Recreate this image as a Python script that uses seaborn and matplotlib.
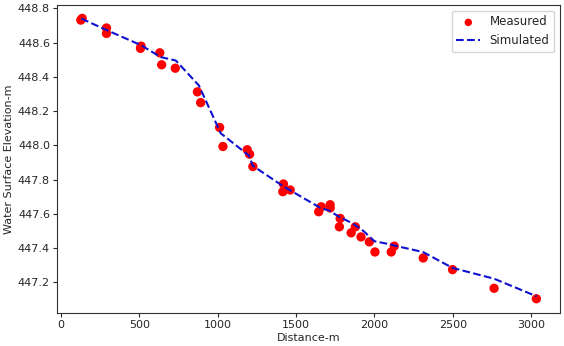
import matplotlib
matplotlib.use("Agg")
import matplotlib.pyplot as plt
import seaborn as sns
import pandas as pd

meas_x = [127, 136, 291, 291, 512, 508, 631, 643, 730, 871, 892, 1013, 1034, 1189, 1204, 1225,
          1420, 1416, 1463, 1661, 1645, 1718, 1718, 1782, 1777, 1879, 1852, 1915, 1968, 2004,
          2108, 2127, 2312, 2499, 2764, 3034]
meas_y = [448.731, 448.741, 448.685, 448.653, 448.579, 448.566, 448.54, 448.47, 448.45, 448.312,
          448.249, 448.104, 447.993, 447.974, 447.948, 447.876, 447.774, 447.729, 447.739, 447.641,
          447.612, 447.653, 447.634, 447.573, 447.524, 447.524, 447.489, 447.465, 447.436, 447.377,
          447.377, 447.411, 447.342, 447.274, 447.165, 447.104]

sim_x = [130, 291, 510, 637, 733, 880, 1020, 1200, 1225, 1420, 1655, 1713, 1780, 1860, 1930,
         2000, 2110, 2125, 2310, 2499, 2764, 3036]
sim_y = [448.74, 448.673, 448.585, 448.515, 448.495, 448.35, 448.07, 447.94, 447.88, 447.76,
         447.635, 447.618, 447.58, 447.545, 447.50, 447.44, 447.42, 447.415, 447.377, 447.284,
         447.221, 447.118]

sns.set_style("ticks")
plt.rcParams['font.family'] = ['DejaVu Sans']

fig = plt.figure(figsize=(5.64, 3.46), dpi=100)
ax = fig.add_axes([0.101, 0.095, 0.892, 0.891])

meas = pd.DataFrame({"x": meas_x, "y": meas_y})
sim = pd.DataFrame({"x": sim_x, "y": sim_y})

sns.scatterplot(data=meas, x="x", y="y", ax=ax, color="red", s=45, edgecolor="none",
                label="Measured", zorder=2)
sns.lineplot(data=sim, x="x", y="y", ax=ax, color="#1010d0", linestyle="--", linewidth=1.5,
             sort=False, label="Simulated", zorder=3)

ax.set_xlabel("Distance-m", fontsize=8, labelpad=2)
ax.set_ylabel("Water Surface Elevation-m", fontsize=8, labelpad=3)
ax.tick_params(labelsize=8, length=3, pad=2)
ax.set_xticks([0, 500, 1000, 1500, 2000, 2500, 3000])
ax.set_yticks([447.2, 447.4, 447.6, 447.8, 448.0, 448.2, 448.4, 448.6, 448.8])
ax.set_xlim(-25, 3185)
ax.set_ylim(447.02, 448.82)
for s in ax.spines.values():
    s.set_color("#333333")
ax.legend(loc="upper right", fontsize=8.5, frameon=True, markerscale=0.8)

fig.savefig("out.png", dpi=100)
